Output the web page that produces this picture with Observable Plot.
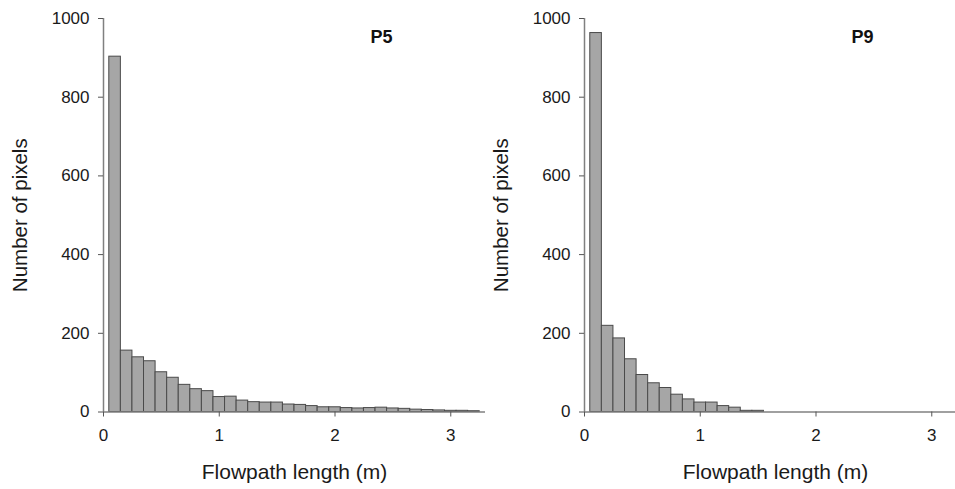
<!DOCTYPE html>
<html>
<head>
<meta charset="utf-8">
<script src="https://cdn.jsdelivr.net/npm/d3@7"></script>
<script src="https://cdn.jsdelivr.net/npm/@observablehq/plot@0.6"></script>
<style>
  html, body { margin: 0; padding: 0; background: #fff; overflow: hidden; }
  #wrap { display: flex; flex-wrap: nowrap; width: 975px; }
  #wrap svg { flex: none; display: block; }
</style>
</head>
<body>
<div id="wrap"></div>
<script>
// Bin centres (m); each bin is 0.1 m wide
const lengths = [0.1,0.2,0.3,0.4,0.5,0.6,0.7,0.8,0.9,1.0,1.1,1.2,1.3,1.4,1.5,1.6,
                 1.7,1.8,1.9,2.0,2.1,2.2,2.3,2.4,2.5,2.6,2.7,2.8,2.9,3.0,3.1,3.2];
const binWidth = 0.1;
const countsP5 = [903,156,139,129,101,87,69,58,53,38,39,29,25,24,24,19,
                  18,15,12,12,10,9,10,11,9,8,6,5,4,3,3,2];
const countsP9 = [963,219,187,134,94,73,61,44,32,24,24,15,11,3,3,0,
                  0,0,0,0,0,0,0,0,0,0,0,0,0,0,0,0];
const panelTitles = ["P5", "P9"];
const xTicks = [0, 1, 2, 3];
const yTicks = [0, 200, 400, 600, 800, 1000];
const xLabel = "Flowpath length (m)";
const yLabel = "Number of pixels";

const FONT = "'Liberation Sans', Arial, Helvetica, sans-serif";

function panel(counts, title, width, marginLeft) {
  const data = lengths.map((x, i) => ({x1: x - binWidth / 2, x2: x + binWidth / 2, count: counts[i]}))
    .filter(d => d.count > 0);
  return Plot.plot({
    width,
    height: 489,
    marginLeft,
    marginRight: width - marginLeft - 382,
    marginTop: 18,
    marginBottom: 77.5,
    style: {fontFamily: FONT, fontSize: "17px", color: "#1a1a1a", background: "#fff"},
    x: {domain: [0, 3.3]},
    y: {domain: [0, 1000]},
    marks: [
      Plot.rectY(data, {x1: "x1", x2: "x2", y: "count", fill: "#a6a6a6", stroke: "#4a4a4a", strokeWidth: 1}),
      Plot.ruleY([0], {stroke: "#808080", strokeWidth: 1.5}),
      Plot.ruleX([0], {stroke: "#808080", strokeWidth: 1.5}),
      Plot.axisX({ticks: xTicks, tickFormat: d3.format("d"), tickSize: 5, tickPadding: 12,
                  stroke: "#555", fill: "#1a1a1a", label: null, fontSize: 17}),
      Plot.axisY({ticks: yTicks, tickFormat: d3.format("d"), tickSize: 5, tickPadding: 9,
                  stroke: "#555", fill: "#1a1a1a", label: null, fontSize: 17}),
      Plot.text([xLabel], {frameAnchor: "bottom", dy: 67, text: d => d, fontSize: 21,
                           fill: "#1a1a1a", textAnchor: "middle"}),
      Plot.text([yLabel], {frameAnchor: "left", dx: -83, rotate: -90, text: d => d, fontSize: 20.5,
                           fill: "#1a1a1a", textAnchor: "middle"}),
      Plot.text([title], {frameAnchor: "top-right", dx: -104, dy: 12, text: d => d,
                          fontWeight: "bold", fontSize: 18, fill: "#111", textAnchor: "middle"})
    ]
  });
}

const wrap = document.getElementById("wrap");
wrap.appendChild(panel(countsP5, panelTitles[0], 490, 103));
wrap.appendChild(panel(countsP9, panelTitles[1], 482, 94));

// enforce tick-label size
wrap.querySelectorAll("svg g[aria-label*='tick label']").forEach(g => {
  g.setAttribute("font-size", "17");
  g.style.fontSize = "17px";
  g.querySelectorAll("text").forEach(t => { t.setAttribute("font-size", "17"); t.style.fontSize = "17px"; });
});
</script>
</body>
</html>
